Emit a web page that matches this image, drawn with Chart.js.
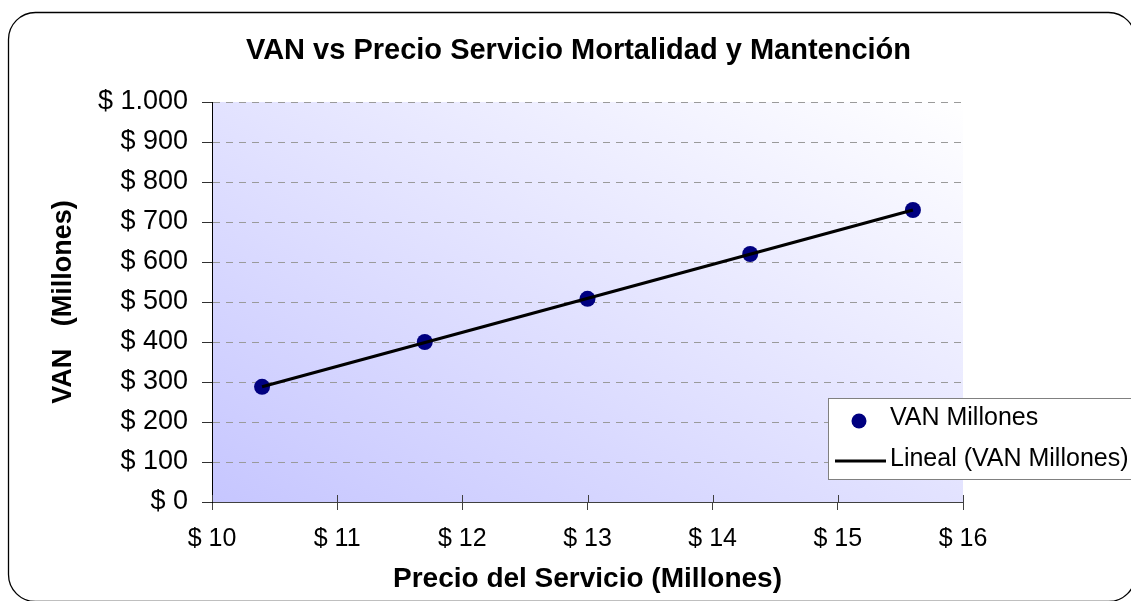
<!DOCTYPE html>
<html>
<head>
<meta charset="utf-8">
<script src="https://cdn.jsdelivr.net/npm/chart.js@4.4.1/dist/chart.umd.min.js"></script>
<style>
  html, body { margin: 0; padding: 0; background: #ffffff; }
  #wrap { width: 1131px; height: 601px; position: relative; }
</style>
</head>
<body>
<div id="wrap"><canvas id="c" width="1131" height="601"></canvas></div>
<script>
// ---- data ----
const chartTitle = 'VAN vs Precio Servicio Mortalidad y Mantención';
const xAxisTitle = 'Precio del Servicio (Millones)';
const yAxisTitle = 'VAN   (Millones)';
const seriesLabel = 'VAN Millones';
const trendLabel = 'Lineal (VAN Millones)';
const precio = [10.4, 11.7, 13.0, 14.3, 15.6];
const van = [288, 400, 508, 620, 730];
const trendPrecio = [10.4, 15.6];
const trendVan = [288, 730];
const xMin = 10, xMax = 16, xStep = 1;
const yMin = 0, yMax = 1000, yStep = 100;

const FONT = "'Liberation Sans', Arial, sans-serif";

function money(v) {
  const s = String(Math.round(v)).replace(/\B(?=(\d{3})+(?!\d))/g, '.');
  return '$ ' + s;
}

const pointData = precio.map((x, i) => ({ x: x, y: van[i] }));
const trendData = trendPrecio.map((x, i) => ({ x: x, y: trendVan[i] }));

const decor = {
  id: 'decor',
  afterLayout(chart) {
    // title is centred across the whole frame, not only the plot side
    if (chart.titleBlock) {
      chart.titleBlock.left = 26;
      chart.titleBlock.right = 1131;
    }
  },
  beforeDraw(chart) {
    const { ctx, chartArea: a } = chart;
    ctx.save();
    ctx.fillStyle = '#ffffff';
    ctx.fillRect(0, 0, chart.width, chart.height);
    // outer rounded frame
    ctx.beginPath();
    ctx.roundRect(8.5, 12.5, 1127, 589, 27);
    ctx.strokeStyle = '#000000';
    ctx.lineWidth = 1.3;
    ctx.stroke();
    // plot area gradient: diagonal, isolines parallel to the TL-BR diagonal
    const w = a.right - a.left, h = a.bottom - a.top;
    const t = 2 * w * h / (w * w + h * h);
    const g = ctx.createLinearGradient(a.left, a.bottom, a.left + t * h, a.bottom - t * w);
    g.addColorStop(0, '#c6c6ff');
    g.addColorStop(1, '#ffffff');
    ctx.fillStyle = g;
    ctx.fillRect(a.left, a.top, w, h);
    ctx.restore();
  },
  afterDraw(chart) {
    const { ctx, chartArea: a } = chart;
    const xs = chart.scales.x;
    ctx.save();
    // inner part of crossing x tick marks
    ctx.strokeStyle = '#404040';
    ctx.lineWidth = 1;
    xs.ticks.forEach(tk => {
      const px = Math.round(xs.getPixelForValue(tk.value)) + 0.5;
      ctx.beginPath();
      ctx.moveTo(px, a.bottom - 7);
      ctx.lineTo(px, a.bottom);
      ctx.stroke();
    });
    // legend
    const lx = 828.5, ly = 398.5, lw = 320, lh = 81;
    ctx.fillStyle = '#ffffff';
    ctx.fillRect(lx, ly, lw, lh);
    ctx.strokeStyle = '#808080';
    ctx.lineWidth = 1;
    ctx.strokeRect(lx, ly, lw, lh);
    const ds = chart.data.datasets;
    ctx.font = '25px ' + FONT;
    ctx.textBaseline = 'middle';
    ctx.textAlign = 'left';
    ctx.beginPath();
    ctx.arc(859, 421, 7.5, 0, Math.PI * 2);
    ctx.fillStyle = '#000080';
    ctx.fill();
    ctx.fillStyle = '#000000';
    ctx.fillText(ds[1].label, 890, 418);
    ctx.beginPath();
    ctx.moveTo(835, 461);
    ctx.lineTo(886, 461);
    ctx.strokeStyle = '#000000';
    ctx.lineWidth = 3;
    ctx.stroke();
    ctx.fillText(ds[0].label, 890, 459);
    ctx.restore();
  }
};

new Chart(document.getElementById('c'), {
  type: 'scatter',
  data: {
    datasets: [
      {
        type: 'line',
        label: trendLabel,
        data: trendData,
        borderColor: '#000000',
        borderWidth: 3.2,
        pointRadius: 0,
        showLine: true,
        fill: false,
        order: 0
      },
      {
        label: seriesLabel,
        data: pointData,
        backgroundColor: '#000080',
        borderColor: '#000080',
        pointRadius: 8,
        pointHoverRadius: 8,
        borderWidth: 0,
        order: 1
      }
    ]
  },
  options: {
    responsive: false,
    animation: false,
    devicePixelRatio: 1,
    layout: { padding: { left: 12, right: 168, top: 0, bottom: 0 } },
    plugins: {
      legend: { display: false },
      tooltip: { enabled: false },
      title: {
        display: true,
        text: chartTitle,
        color: '#000000',
        font: { family: FONT, size: 29, weight: 'bold', lineHeight: 1.2 },
        padding: { top: 33.6, bottom: 33.6 }
      }
    },
    scales: {
      x: {
        type: 'linear',
        min: xMin, max: xMax,
        afterFit(s) { s.height = 99; },
        ticks: {
          stepSize: xStep,
          color: '#000000',
          padding: 14,
          font: { family: FONT, size: 25 },
          callback: v => money(v)
        },
        grid: {
          drawOnChartArea: false,
          drawTicks: true,
          tickLength: 8,
          tickColor: '#404040'
        },
        border: { display: true, color: '#404040', width: 1 },
        title: {
          display: true,
          text: xAxisTitle,
          color: '#000000',
          font: { family: FONT, size: 28, weight: 'bold', lineHeight: 1.2 },
          padding: { top: 0, bottom: 5 }
        }
      },
      y: {
        type: 'linear',
        min: yMin, max: yMax,
        afterFit(s) { s.width = 200; },
        ticks: {
          stepSize: yStep,
          color: '#000000',
          padding: 14,
          font: { family: FONT, size: 27 },
          callback: v => money(v)
        },
        grid: {
          drawOnChartArea: true,
          drawTicks: true,
          tickLength: 10,
          color: '#9a9a9a',
          lineWidth: 1,
          tickColor: '#303030',
          tickBorderDash: [0, 0]
        },
        border: { display: true, color: '#000000', width: 1, dash: [7, 6] },
        title: {
          display: true,
          text: yAxisTitle,
          color: '#000000',
          font: { family: FONT, size: 27, weight: 'bold', lineHeight: 1.2 },
          padding: { top: 35, bottom: 0 }
        }
      }
    }
  },
  plugins: [decor]
});
</script>
</body>
</html>
